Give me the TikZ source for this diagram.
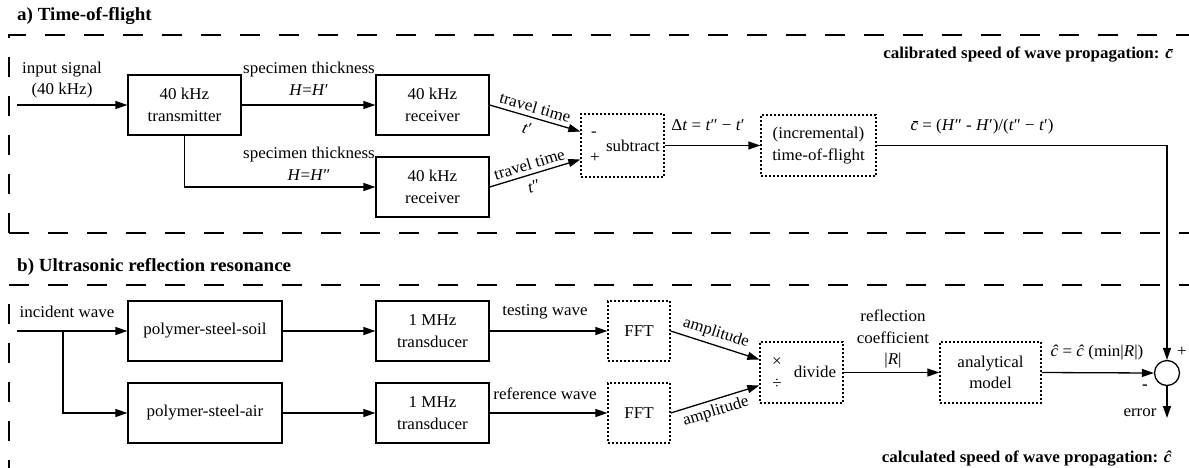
\documentclass[tikz,border=0pt]{standalone}
\usepackage{fontspec}
\setmainfont{Liberation Serif}[FakeStretch=1.03]
\usetikzlibrary{arrows.meta,calc}

% italic c with a short bar over it
\newcommand{\cbarsym}{\rlap{\hspace{0.14em}\rule[0.56em]{0.32em}{0.06em}}\textit{c}}

\begin{document}
\begin{tikzpicture}[x=1pt,y=-1pt,
  font=\fontsize{16.5}{21.5}\selectfont,
  every node/.style={inner sep=0pt, align=center},
  flow/.style={line width=1.3pt,-{Triangle[length=12pt,width=8pt]}},
  block/.style={draw,line width=1.3pt,minimum height=60pt},
  dotblock/.style={draw,line width=1.3pt,dash pattern=on 2pt off 2pt,minimum height=61pt},
  frame/.style={line width=1.3pt,dash pattern=on 20pt off 19pt},
  title/.style={font=\fontsize{18.5}{19}\selectfont\bfseries,anchor=west},
  caption/.style={font=\fontsize{16.5}{18}\selectfont\bfseries,anchor=east},
  sumpt/.style={draw,circle,line width=1.3pt,minimum size=25pt}
]
\useasboundingbox (0,0) rectangle (1189,467);
\clip (0,0) rectangle (1189,467);

% ---------- section frames and titles ----------
\draw[frame] (9,233) -- (9,35) -- (1209,35);
\draw[frame] (9,233) -- (1209,233);
\draw[frame] (9,480) -- (9,285) -- (1209,285);
\node[title] (ta) at (17,16) {a) Time-of-flight};
\node[title] (tb) at (17,267) {b) Ultrasonic reflection resonance};
\node[caption] (capa) at (1173,55) {calibrated speed of wave propagation: \cbarsym};
\node[caption] (capb) at (1172,458) {calculated speed of wave propagation: \textit{ĉ}};

% ---------- a) time-of-flight chain ----------
\node[block,minimum width=113pt] (tx)  at (184.5,105) {40 kHz\\transmitter};
\node[block,minimum width=113pt] (rx1) at (432.5,105) {40 kHz\\receiver};
\node[block,minimum width=113pt] (rx2) at (432.5,187) {40 kHz\\receiver};
\node[dotblock,minimum width=83pt,minimum height=63pt] (sub) at (622.5,145.5) {};
\node (subt) at (633,146) {subtract};
\node (subm) at (594,134) {-};
\node (subp) at (595,158) {+};
\node[dotblock,minimum width=115pt] (tof) at (818.5,145.5) {(incremental)\\time-of-flight};
\node[sumpt] (sum) at (1167,373) {};

\coordinate (insig) at (17,105);
\draw[flow] (insig) -- (tx.west);
\node (insigl) at (62,80) {input signal\\(40 kHz)};

\draw[flow] (tx.east) -- (rx1.west);
\node (th1) at (309,79) {specimen thickness\\\textit{H}=\textit{H}′};
\draw[flow] (tx.south) |- (rx2.west);
\node (th2) at (309,164) {specimen thickness\\\textit{H}=\textit{H}″};

\draw[flow] (rx1.east) -- ([yshift=14pt]sub.west)
  node[pos=0.47,sloped,above=4pt] {travel time}
  node[pos=0.45,sloped,below=6pt] {\textit{t}′};
\draw[flow] (rx2.east) -- ([yshift=-14pt]sub.west)
  node[pos=0.47,sloped,above=4pt] {travel time}
  node[pos=0.45,sloped,below=6pt] {\textit{t}″};

\draw[flow] (sub.east) -- (tof.west);
\node (dt) at (708,125) {Δ\textit{t} = \textit{t}″ − \textit{t}′};
\draw[flow] (tof.east) -| (sum.north);
\node (cbar) at (982,127) {\cbarsym{} = (\textit{H}″ - \textit{H}′)/(\textit{t}″ − \textit{t}′)};

% ---------- b) reflection resonance chain ----------
\node[block,minimum width=154pt] (pss) at (205,331) {polymer-steel-soil};
\node[block,minimum width=154pt] (psa) at (205,413) {polymer-steel-air};
\node[block,minimum width=113pt] (td1) at (432.5,331) {1 MHz\\transducer};
\node[block,minimum width=113pt] (td2) at (432.5,413) {1 MHz\\transducer};
\node[dotblock,minimum width=62pt,minimum height=60pt] (fft1) at (639,331) {FFT};
\node[dotblock,minimum width=62pt,minimum height=60pt] (fft2) at (639,413) {FFT};
\node[dotblock,minimum width=83pt] (div) at (801.5,372.5) {};
\node (divt) at (815,372) {divide};
\node (divx) at (777,362) {×};
\node (divd) at (777,384) {÷};
\node[dotblock,minimum width=101pt] (am) at (990.5,372.5) {analytical\\model};

\coordinate (inc) at (17,331);
\coordinate (incb) at (63,331);
\draw[flow] (inc) -- (pss.west);
\node (incl) at (67,312) {incident wave};
\draw[flow] (incb) |- (psa.west);

\draw[flow] (pss.east) -- (td1.west);
\draw[flow] (psa.east) -- (td2.west);
\draw[flow] (td1.east) -- (fft1.west);
\node (tw) at (545,312) {testing wave};
\draw[flow] (td2.east) -- (fft2.west);
\node (rw) at (545,394) {reference wave};

\draw[flow] (fft1.east) -- ([yshift=13pt]div.west)
  node[pos=0.47,sloped,above=4pt] {amplitude};
\draw[flow] (fft2.east) -- ([yshift=-13pt]div.west)
  node[pos=0.47,sloped,below=4pt] {amplitude};

\draw[flow] (div.east) -- (am.west);
\node (rc) at (893,339) {reflection\\coefficient\\|\textit{R}|};
\draw[flow] (am.east) -- (sum.west);
\node (chat) at (1097,353) {\textit{ĉ} = \textit{ĉ} (min|\textit{R}|)};

\node (sp) at (1182,352) {+};
\node (sm) at (1145,387) {\textbf{-}};
\coordinate (errend) at (1167,418);
\draw[flow] (sum.south) -- (errend);
\node (err) at (1140,413) {error};
\end{tikzpicture}
\end{document}
